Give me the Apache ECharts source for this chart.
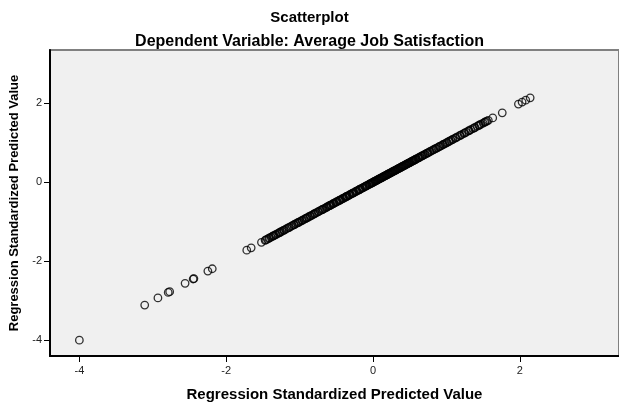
<!DOCTYPE html>
<html>
<head>
<meta charset="utf-8">
<script src="https://cdn.jsdelivr.net/npm/echarts@6/dist/echarts.min.js"></script>
<style>html,body{margin:0;padding:0;background:#fff}#c{width:619px;height:407px}</style>
</head>
<body>
<div id="c"></div>
<script>
const titleText = "Scatterplot";
const subtitleText = "Dependent Variable: Average Job Satisfaction";
const xAxisName = "Regression Standardized Predicted Value";
const yAxisName = "Regression Standardized Predicted Value";
const tickValues = [-4, -2, 0, 2];
// Standardized predicted values (plotted against themselves)
const predicted = [
  -4.00, -3.11, -2.93, -2.79, -2.77, -2.56, -2.45, -2.44, -2.25, -2.19, -1.72, -1.66, -1.52,
  -1.47, -1.44, -1.42, -1.39, -1.37, -1.35, -1.33, -1.30, -1.28, -1.27, -1.24, -1.22, -1.19,
  -1.17, -1.15, -1.12, -1.10, -1.08, -1.05, -1.03, -1.01, -0.99, -0.96, -0.94, -0.92, -0.90,
  -0.88, -0.85, -0.83, -0.81, -0.79, -0.77, -0.74, -0.72, -0.70, -0.69, -0.66, -0.64, -0.62,
  -0.60, -0.58, -0.57, -0.55, -0.53, -0.51, -0.49, -0.47, -0.45, -0.44, -0.42, -0.40, -0.38,
  -0.36, -0.35, -0.33, -0.31, -0.29, -0.27, -0.26, -0.24, -0.22, -0.20, -0.18, -0.17, -0.15,
  -0.13, -0.11, -0.09, -0.08, -0.06, -0.04, -0.02, -0.01, 0.01, 0.03, 0.05, 0.06, 0.08, 0.10,
  0.12, 0.13, 0.15, 0.17, 0.19, 0.21, 0.22, 0.24, 0.26, 0.28, 0.30, 0.31, 0.33, 0.35, 0.37,
  0.39, 0.41, 0.43, 0.45, 0.47, 0.49, 0.51, 0.53, 0.55, 0.57, 0.59, 0.62, 0.64, 0.66, 0.68,
  0.71, 0.73, 0.75, 0.78, 0.80, 0.83, 0.85, 0.88, 0.90, 0.93, 0.96, 0.98, 1.01, 1.04, 1.06,
  1.09, 1.12, 1.15, 1.18, 1.21, 1.24, 1.27, 1.30, 1.33, 1.36, 1.39, 1.42, 1.44, 1.47, 1.50,
  1.52, 1.55, 1.57, 1.63, 1.76, 1.98, 2.03, 2.08, 2.14,
  -1.46, -1.41, -1.36, -1.32, -1.26, -1.21, -1.14, -1.07, -1.02, -0.97, -0.91, -0.86, -0.80,
  -0.75, -0.68, -0.63, -0.59, -0.54, -0.50, -0.46, -0.41, -0.37, -0.32, -0.28, -0.23, -0.19,
  -0.14, -0.10, -0.05, -0.03, 0.00, 0.02, 0.04, 0.07, 0.09, 0.11, 0.14, 0.16, 0.18, 0.20,
  0.23, 0.25, 0.27, 0.29, 0.32, 0.34, 0.36, 0.38, 0.40, 0.42, 0.44, 0.46, 0.48, 0.50, 0.52,
  0.54, 0.56, 0.58, 0.61, 0.63, 0.67, 0.70, 0.74, 0.77, 0.82, 0.86, 0.91, 0.95, 1.00, 1.03,
  1.08, 1.13, 1.19, 1.25, 1.31, 1.38, 1.45, 1.53
];

const points = predicted.map(v => [v, v]);
const font = "Arial, 'Liberation Sans', sans-serif";
const chart = echarts.init(document.getElementById('c'), null, {renderer: 'canvas'});
const axisCommon = {
  type: 'value', min: -4.4, max: 3.35,
  nameLocation: 'middle',
  axisLine: {show: true, onZero: false, lineStyle: {color: '#000', width: 2}},
  axisTick: {show: true, inside: false, length: 6, customValues: tickValues, lineStyle: {color: '#000', width: 1}},
  axisLabel: {show: true, customValues: tickValues, fontFamily: font, fontSize: 11, color: '#222'},
  splitLine: {show: false}
};
chart.setOption({
  animation: false,
  backgroundColor: '#fff',
  title: [
    {text: titleText, left: 'center', top: 5, textStyle: {fontFamily: font, fontWeight: 'bold', fontSize: 15, color: '#000'}},
    {text: subtitleText, left: 'center', top: 29, textStyle: {fontFamily: font, fontWeight: 'bold', fontSize: 16, color: '#000'}}
  ],
  grid: {left: 50, top: 50, width: 572, height: 318, show: true, backgroundColor: '#f0f0f0', borderColor: '#808080', borderWidth: 2, containLabel: false},
  xAxis: Object.assign({}, axisCommon, {name: xAxisName, nameGap: 31,
    nameTextStyle: {fontFamily: font, fontWeight: 'bold', fontSize: 15, color: '#000'},
    axisLabel: Object.assign({}, axisCommon.axisLabel, {margin: 9})}),
  yAxis: Object.assign({}, axisCommon, {name: yAxisName, nameGap: 26,
    nameTextStyle: {fontFamily: font, fontWeight: 'bold', fontSize: 13, color: '#000'},
    axisLabel: Object.assign({}, axisCommon.axisLabel, {margin: 8})}),
  series: [{
    type: 'scatter',
    data: points,
    symbol: 'circle',
    symbolSize: 7.5,
    itemStyle: {color: 'rgba(0,0,0,0)', borderColor: '#000', borderWidth: 1.3}
  }]
});
</script>
</body>
</html>
